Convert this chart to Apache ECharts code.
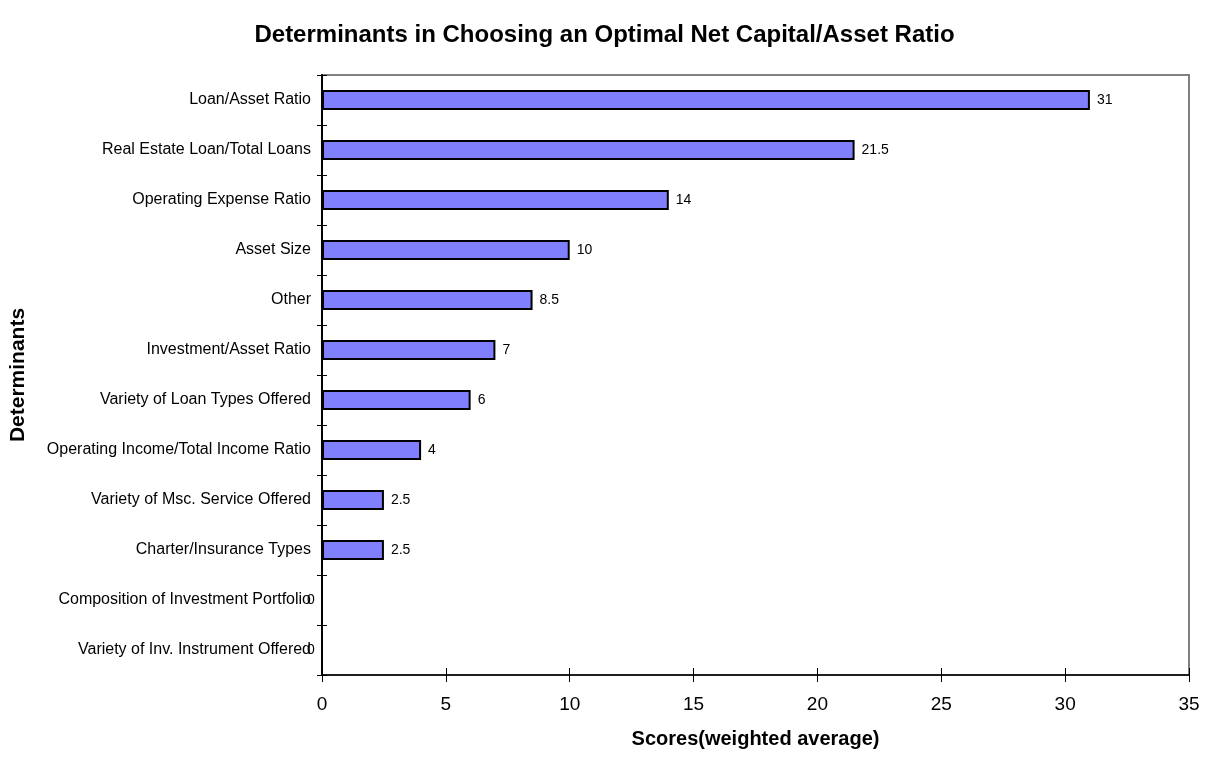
<!DOCTYPE html>
<html>
<head>
<meta charset="utf-8">
<script src="https://cdn.jsdelivr.net/npm/echarts@6/dist/echarts.min.js"></script>
<style>
  html, body { margin: 0; padding: 0; background: #fff; }
  #chart { width: 1209px; height: 757px; }
</style>
</head>
<body>
<div id="chart"></div>
<script>
// Determinants, listed top to bottom
const determinants = [
  'Loan/Asset Ratio',
  'Real Estate Loan/Total Loans',
  'Operating Expense Ratio',
  'Asset Size',
  'Other',
  'Investment/Asset Ratio',
  'Variety of Loan Types Offered',
  'Operating Income/Total Income Ratio',
  'Variety of Msc. Service Offered',
  'Charter/Insurance Types',
  'Composition of Investment Portfolio',
  'Variety of Inv. Instrument Offered'
];
// Weighted average scores
const scores = [31, 21.5, 14, 10, 8.5, 7, 6, 4, 2.5, 2.5, 0, 0];
const scoreTicks = [0, 5, 10, 15, 20, 25, 30, 35];

const font = 'Liberation Sans, Arial, sans-serif';
const chart = echarts.init(document.getElementById('chart'));

const baseY = {
  type: 'category',
  data: determinants,
  inverse: true,
  axisLine: { show: true, lineStyle: { color: '#000', width: 2 } },
  splitLine: { show: false }
};
const baseX = {
  type: 'value',
  min: scoreTicks[0],
  max: scoreTicks[scoreTicks.length - 1],
  interval: 5,
  splitLine: { show: false }
};

// zero scores get their label tucked against the axis, right after the category name
const barData = scores.map(v => v === 0
  ? { value: v, label: { offset: [-23, 0] } }
  : v);

chart.setOption({
  backgroundColor: '#fff',
  animation: false,
  title: {
    text: 'Determinants in Choosing an Optimal Net Capital/Asset Ratio',
    left: 'center',
    top: 18,
    textStyle: { fontFamily: font, fontSize: 24, fontWeight: 'bold', color: '#000' }
  },
  grid: {
    left: 321, right: 20, top: 75, bottom: 82,
    show: true, borderColor: '#808080', borderWidth: 2, backgroundColor: '#fff'
  },
  xAxis: [
    Object.assign({}, baseX, {
      name: 'Scores(weighted average)',
      nameLocation: 'middle',
      nameGap: 54,
      nameTextStyle: { fontFamily: font, fontSize: 20, fontWeight: 'bold', color: '#000' },
      axisLine: { show: true, lineStyle: { color: '#000', width: 1.5 } },
      axisTick: { show: true, length: 7, lineStyle: { color: '#000', width: 1 } },
      axisLabel: { fontFamily: font, fontSize: 19, color: '#000', margin: 20 }
    }),
    Object.assign({}, baseX, {
      position: 'bottom',
      axisLine: { show: false },
      axisTick: { show: true, inside: true, length: 7, lineStyle: { color: '#000', width: 1 } },
      axisLabel: { show: false }
    })
  ],
  yAxis: [
    Object.assign({}, baseY, {
      name: 'Determinants',
      nameLocation: 'middle',
      nameGap: 293,
      nameRotate: 90,
      nameTextStyle: { fontFamily: font, fontSize: 21, fontWeight: 'bold', color: '#000' },
      axisTick: { show: true, length: 5, lineStyle: { color: '#000', width: 1 } },
      axisLabel: { fontFamily: font, fontSize: 16, color: '#000', margin: 11 }
    }),
    Object.assign({}, baseY, {
      position: 'left',
      axisLine: { show: false },
      axisTick: { show: true, inside: true, length: 5, lineStyle: { color: '#000', width: 1 } },
      axisLabel: { show: false }
    })
  ],
  series: [{
    type: 'bar',
    data: barData,
    barWidth: 20,
    itemStyle: { color: '#8080FF', borderColor: '#000', borderWidth: 2 },
    label: {
      show: true,
      position: 'right',
      distance: 7,
      fontFamily: font,
      fontSize: 14,
      color: '#000'
    }
  }]
});
</script>
</body>
</html>
